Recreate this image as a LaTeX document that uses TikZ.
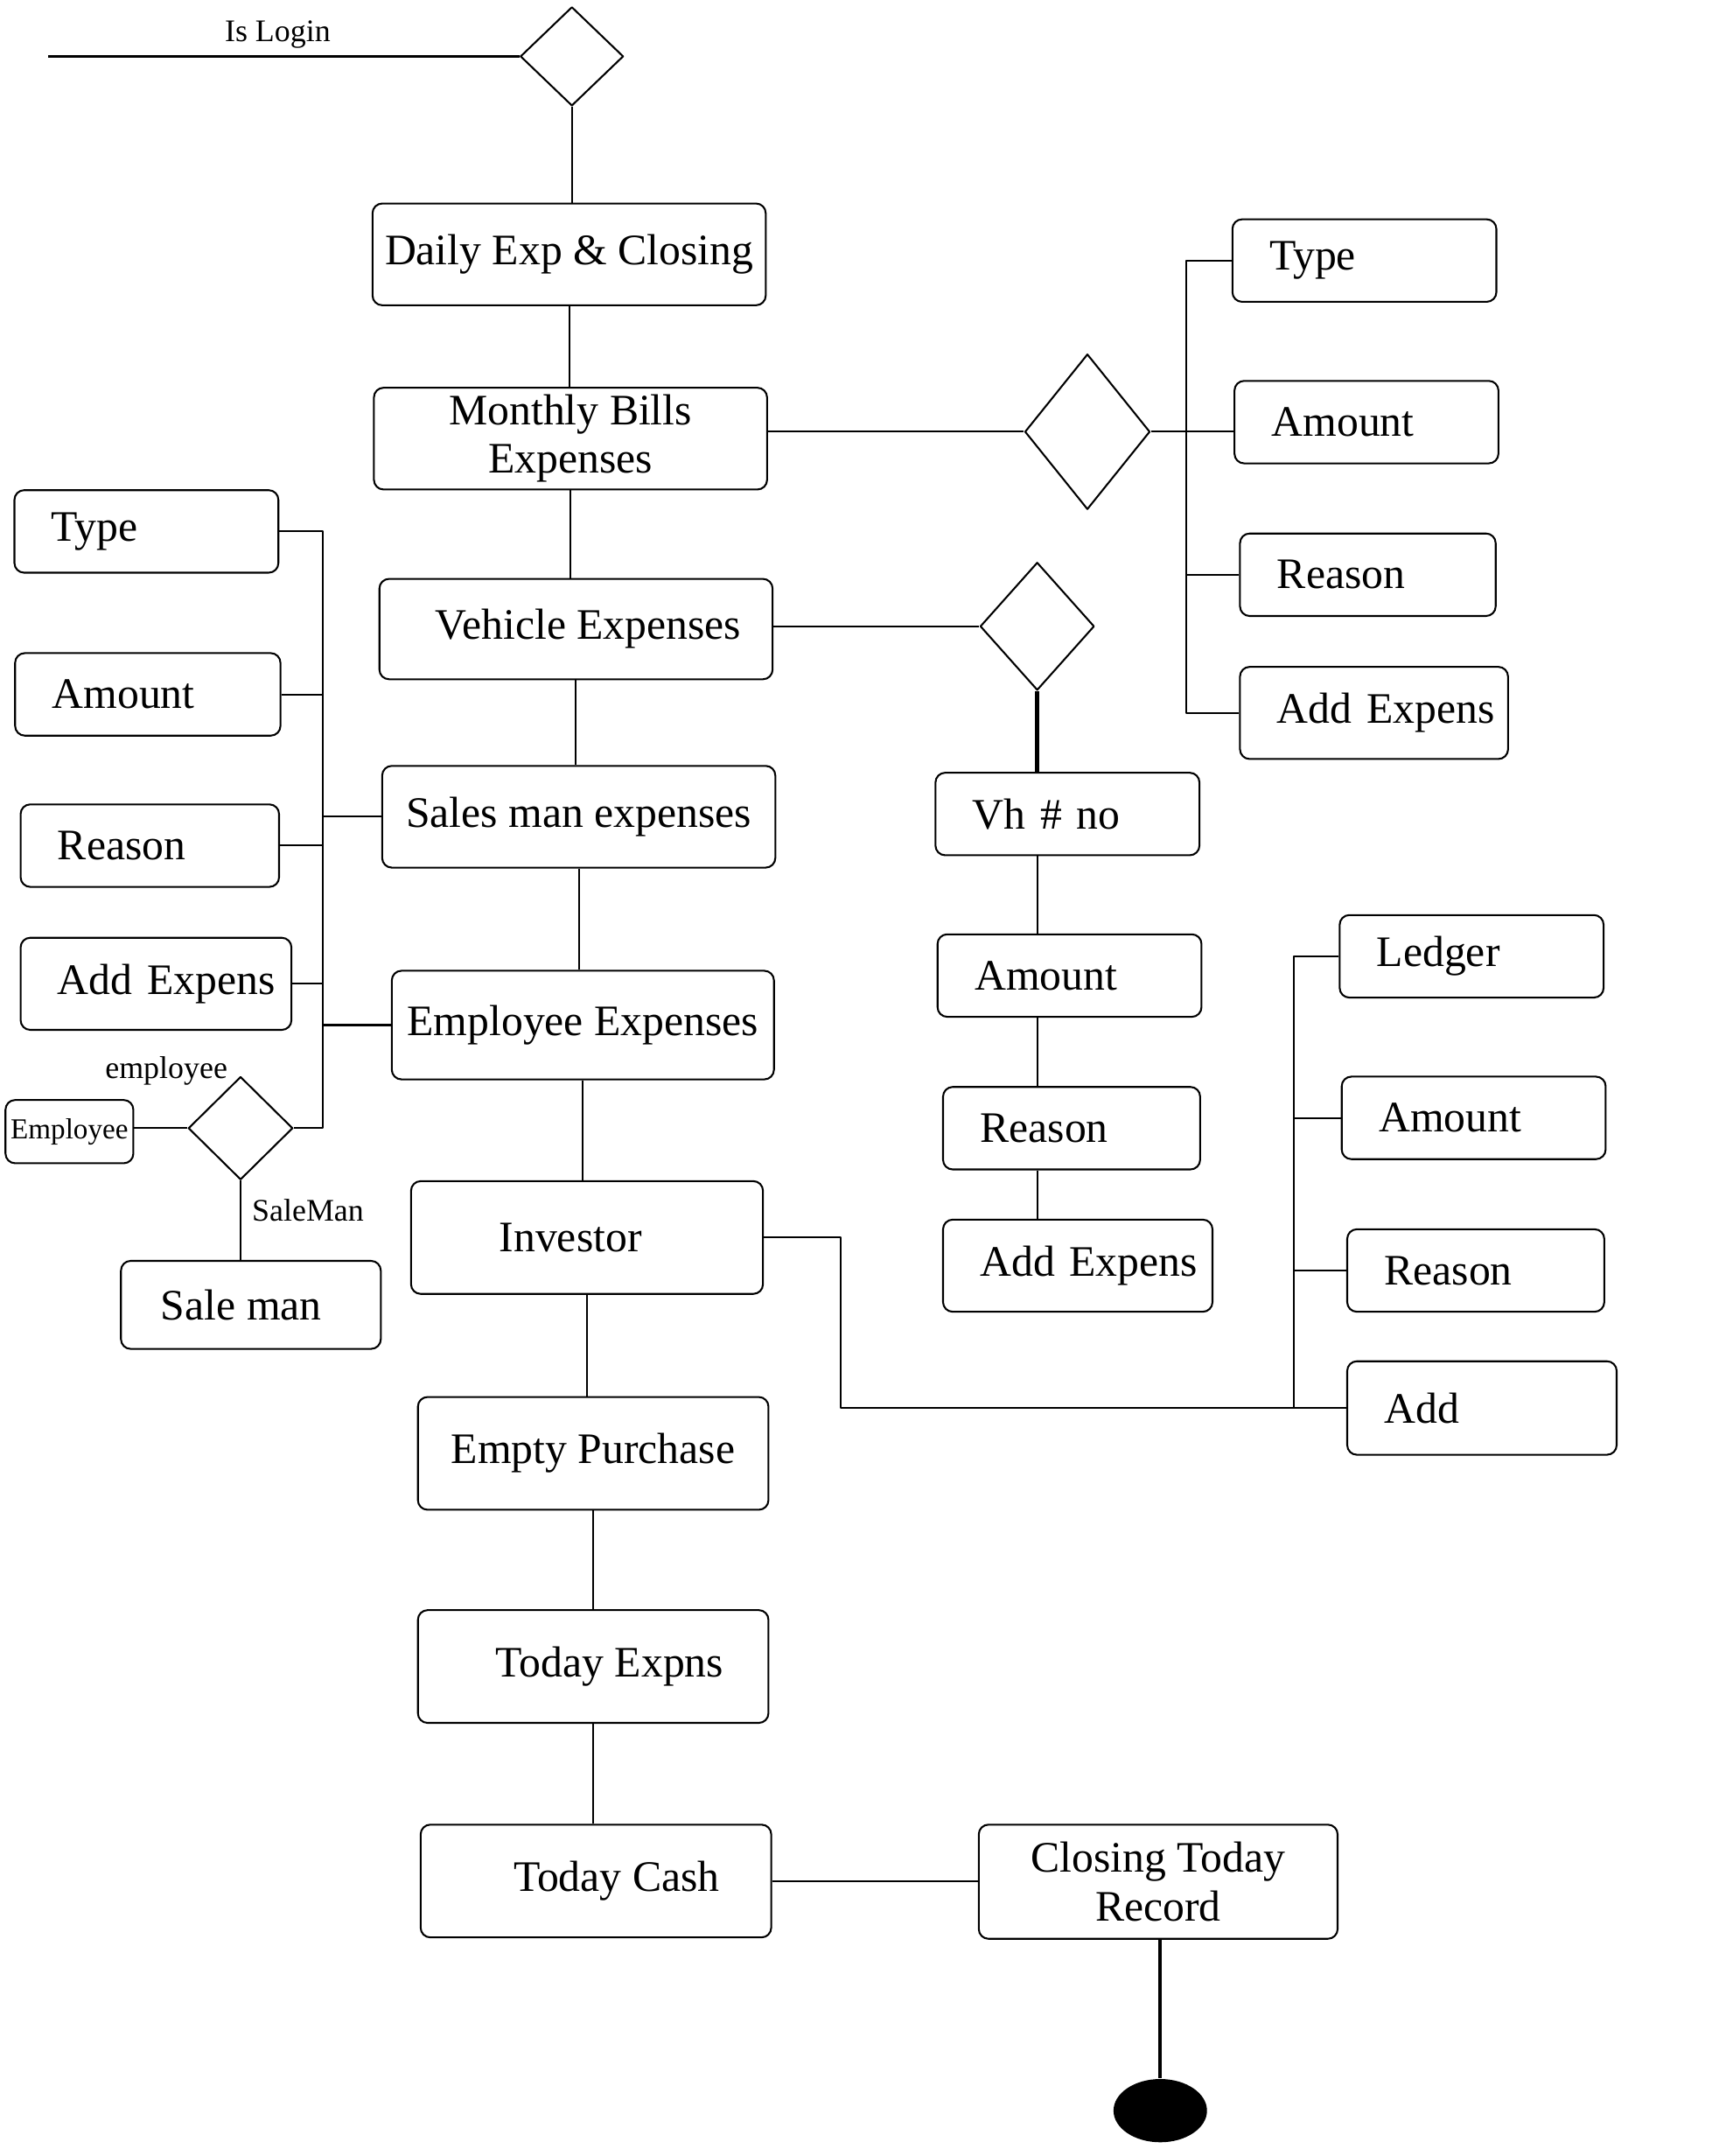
\documentclass[tikz,border=0pt]{standalone}
\usepackage{fontspec}
\setmainfont{Liberation Serif}
\usetikzlibrary{shapes.geometric,calc}
\definecolor{ink}{HTML}{000000}
\tikzset{
  every picture/.style={line join=round},
  box/.style={draw=ink, rounded corners=4pt, line width=0.75pt, align=center, text=ink,
    font=\fontsize{18}{20}\selectfont, inner sep=2pt},
  attr/.style={box, align=left, text width=#1, inner xsep=0pt, minimum height=1.2cm,
    execute at begin node={\hspace*{0.54cm}}},
  attr/.default=3.84cm,
  pushr/.style={execute at begin node={\hspace*{#1}}},
  pushl/.style={execute at end node={\hspace*{#1}}},
  rel/.style={diamond, draw=ink, line width=0.75pt, inner sep=0pt},
  link/.style={draw=ink, line width=0.75pt},
  lbl/.style={font=\fontsize{13}{15}\selectfont, text=ink, inner sep=1pt},
}

\begin{document}
\begin{tikzpicture}[x=0.2mm, y=-0.2mm]
  \tikzset{
    main/.style={box, minimum width=5.72cm, minimum height=1.48cm},
    low/.style={box, minimum width=5.1cm, minimum height=1.64cm},
  }
  \useasboundingbox (0,0) rectangle (1250,1568);
  % ---------------- main column ----------------
  \node[rel, minimum width=1.5cm, minimum height=1.44cm] (login) at (416,41) {};
  \coordinate (start) at (35,41);
  \draw[link, line width=1.1pt] (start) -- (login.west);
  \node[lbl] (islogin) at (202,25) {Is Login};
  \node[main] (daily) at (414,185) {Daily Exp \& Closing};
  \node[main] (monthly) at (415,319) {Monthly Bills\\Expenses};
  \node[main, minimum height=1.46cm, pushr=0.36cm] (vehicle) at (419,457.5) {Vehicle Expenses};
  \node[main] (sales) at (421,594) {Sales man expenses};
  \node[main, minimum width=5.56cm, minimum height=1.58cm] (empexp) at (424,745.5) {Employee Expenses};
  \node[low, minimum width=5.12cm, pushl=0.48cm] (investor) at (427,900) {Investor};
  \node[low] (empty) at (431.5,1057) {Empty Purchase};
  \node[low, pushr=0.48cm] (todayexp) at (431.5,1212) {Today Expns};
  \node[low, pushr=0.6cm] (todaycash) at (433.5,1368) {Today Cash};
  \node[box, minimum width=5.22cm, minimum height=1.66cm] (closing) at (842.5,1368.5) {Closing Today\\Record};
  \node[ellipse, fill=ink, minimum width=1.36cm, minimum height=0.92cm, inner sep=0pt] (finish) at (844,1535) {};
  \draw[link] (login.south) -- (login.south |- daily.north);
  \foreach \a/\b in {daily/monthly,monthly/vehicle,vehicle/sales,sales/empexp,
    empexp/investor,investor/empty,empty/todayexp,todayexp/todaycash}{
    \draw[link] (\a.south) -- (\a.south |- \b.north);}
  \draw[link] (todaycash.east) -- (todaycash.east -| closing.west);
  \draw[link, line width=1.5pt] (finish.north |- closing.south) -- (finish.north);

  % ---------------- monthly bills ----------------
  \node[rel, minimum width=1.82cm, minimum height=2.26cm] (bills) at (791,314) {};
  \node[attr] (ty1) at (992.5,189.5) {Type};
  \node[attr] (am1) at (994,307) {Amount};
  \node[attr=3.72cm] (re1) at (995,418) {Reason};
  \node[attr=3.9cm, minimum height=1.34cm] (ad1) at (999.5,518.5) {Add Expens};
  \coordinate (bus1) at (863,0);
  \draw[link] (monthly.east |- bills.west) -- (bills.west);
  \draw[link] (bills.east) -- (bills.east -| am1.west);
  \draw[link] (ty1.west) -| (bus1 |- ad1.west) -- (ad1.west);
  \draw[link] (re1.west) -- (bus1 |- re1.west);

  % ---------------- vehicle ----------------
  \node[rel, minimum width=1.66cm, minimum height=1.86cm] (veh) at (754.5,455.5) {};
  \node[attr] (vh) at (776.5,592) {Vh \# no};
  \node[attr] (am2) at (778,709.5) {Amount};
  \node[attr=3.74cm] (re2) at (779.5,820.5) {Reason};
  \node[attr=3.92cm, minimum height=1.34cm] (ad2) at (784,920.5) {Add Expens};
  \draw[link] (vehicle.east |- veh.west) -- (veh.west);
  \draw[link, line width=1.8pt] (veh.south) -- (veh.south |- vh.north);
  \foreach \a/\b in {vh/am2,am2/re2,re2/ad2}{
    \draw[link] (\a.south -| veh.south) -- (\b.north -| veh.south);}

  % ---------------- investor ----------------
  \node[attr] (le3) at (1070.5,695.5) {Ledger};
  \node[attr] (am3) at (1072,813) {Amount};
  \node[attr=3.74cm] (re3) at (1073.5,924) {Reason};
  \node[attr=3.92cm, minimum height=1.36cm] (ad3) at (1078,1024) {Add};
  \coordinate (bus2) at (941,0);
  \draw[link] (le3.west) -| (bus2 |- ad3.west) -- (ad3.west);
  \draw[link] (am3.west) -- (bus2 |- am3.west);
  \draw[link] (re3.west) -- (bus2 |- re3.west);
  \draw[link] (investor.east) -- ++(56,0) |- (bus2 |- ad3.west);

  % ---------------- sales man / employee ----------------
  \node[attr] (ty0) at (106.5,386.5) {Type};
  \node[attr=3.86cm] (am0) at (107.5,505) {Amount};
  \node[attr=3.76cm] (re0) at (109,615) {Reason};
  \node[attr=3.94cm, minimum height=1.34cm] (ad0) at (113.5,715.5) {Add Expens};
  \node[rel, minimum width=1.52cm, minimum height=1.5cm] (who) at (175,820.5) {};
  \node[box, font=\fontsize{12}{14}\selectfont, inner sep=1pt, minimum width=1.86cm,
    minimum height=0.92cm] (emp) at (50.5,823) {Employee};
  \node[box, minimum width=3.78cm, minimum height=1.28cm, pushl=0.28cm] (saleman) at (182.5,949) {Sale man};
  \node[lbl] (emplbl) at (121,779) {employee};
  \node[lbl] (salelbl) at (224,880) {SaleMan};
  \coordinate (bus0) at (235,0);
  \draw[link] (ty0.east) -| (bus0 |- who.east) -- (who.east);
  \foreach \n in {am0,re0,ad0}{\draw[link] (\n.east) -- (bus0 |- \n.east);}
  \draw[link] (sales.west) -- (bus0 |- sales.west);
  \draw[link] (empexp.west) -- (bus0 |- empexp.west);
  \draw[link] (emp.east |- who.west) -- (who.west);
  \draw[link] (who.south) -- (who.south |- saleman.north);
\end{tikzpicture}
\end{document}
